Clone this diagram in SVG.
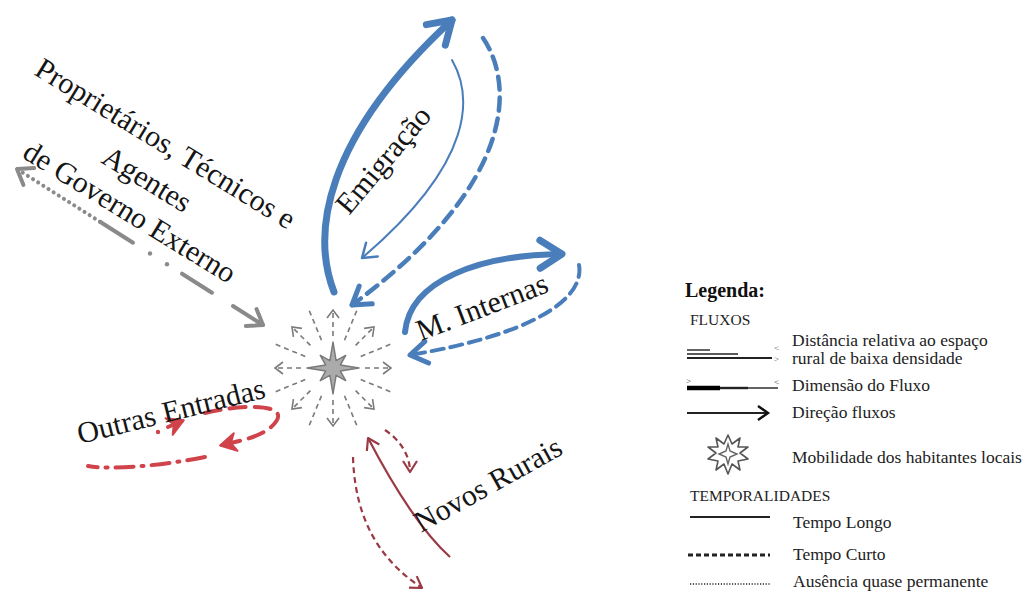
<svg xmlns="http://www.w3.org/2000/svg" width="1024" height="592" viewBox="0 0 1024 592">
<defs>
<style>
.lbl{font-family:"Liberation Serif","Times New Roman",serif;font-size:30px;fill:#151515}
.lg{font-family:"Liberation Serif","Times New Roman",serif;font-size:17.5px;fill:#222}
.lgc{font-family:"Liberation Serif","Times New Roman",serif;font-size:15.5px;fill:#222}
.blue{fill:none;stroke:#4a7ebb;stroke-linecap:round}
.ray{fill:none;stroke:#7a7a7a;stroke-width:1.6;stroke-dasharray:5 4}
.red{fill:none;stroke:#d0434b;stroke-width:4;stroke-linecap:round}
.dred{fill:none;stroke:#9a3a45;stroke-width:2.2}
.gray{fill:none;stroke:#8a8a8a;stroke-width:4;stroke-linecap:round}
</style>
<marker id="hBig" markerUnits="userSpaceOnUse" orient="auto" refX="0" refY="0" markerWidth="40" markerHeight="40" viewBox="-30 -20 40 40" overflow="visible"><path d="M-22,-14 L0,0 L-22,14" fill="none" stroke="#4a7ebb" stroke-width="7" stroke-linecap="round" stroke-linejoin="round"/></marker>
<marker id="hMid" markerUnits="userSpaceOnUse" orient="auto" refX="0" refY="0" markerWidth="40" markerHeight="40" viewBox="-30 -20 40 40" overflow="visible"><path d="M-17,-11 L0,0 L-17,11" fill="none" stroke="#4a7ebb" stroke-width="5" stroke-linecap="round" stroke-linejoin="round"/></marker>
<marker id="hThin" markerUnits="userSpaceOnUse" orient="auto" refX="0" refY="0" markerWidth="40" markerHeight="40" viewBox="-30 -20 40 40" overflow="visible"><path d="M-13,-9 L0,0 L-13,9" fill="none" stroke="#4a7ebb" stroke-width="2.5" stroke-linecap="round" stroke-linejoin="round"/></marker>
<marker id="hRay" markerUnits="userSpaceOnUse" orient="auto" refX="0" refY="0" markerWidth="20" markerHeight="20" viewBox="-15 -10 20 20" overflow="visible"><path d="M-8,-6 L0,0 L-8,6" fill="none" stroke="#7a7a7a" stroke-width="1.6"/></marker>
<marker id="hGray" markerUnits="userSpaceOnUse" orient="auto" refX="0" refY="0" markerWidth="30" markerHeight="30" viewBox="-20 -15 30 30" overflow="visible"><path d="M-14,-10 L0,0 L-14,10" fill="none" stroke="#8a8a8a" stroke-width="4" stroke-linecap="round" stroke-linejoin="round"/></marker>
<marker id="hRed" markerUnits="userSpaceOnUse" orient="auto" refX="0" refY="0" markerWidth="30" markerHeight="30" viewBox="-20 -15 30 30" overflow="visible"><path d="M2,0 L-14,-9 L-9,0 L-14,9 Z" fill="#d0434b" stroke="#d0434b" stroke-width="2" stroke-linejoin="round"/></marker>
<marker id="hDred" markerUnits="userSpaceOnUse" orient="auto" refX="0" refY="0" markerWidth="30" markerHeight="30" viewBox="-20 -15 30 30" overflow="visible"><path d="M-11,-7 L0,0 L-11,7" fill="none" stroke="#9a3a45" stroke-width="2.2" stroke-linejoin="round"/></marker>
<marker id="hLg" markerUnits="userSpaceOnUse" orient="auto" refX="0" refY="0" markerWidth="30" markerHeight="30" viewBox="-20 -15 30 30" overflow="visible"><path d="M-10,-7 L0,0 L-10,7" fill="none" stroke="#111" stroke-width="2.4"/></marker>
</defs>

<g id="mobilidade-central">
<g class="ray">
<path d="M365,368 L391,368" marker-end="url(#hRay)"/>
<path d="M355.6,390.6 L374,409" marker-end="url(#hRay)"/>
<path d="M333,400 L333,426" marker-end="url(#hRay)"/>
<path d="M310.4,390.6 L292,409" marker-end="url(#hRay)"/>
<path d="M301,368 L275,368" marker-end="url(#hRay)"/>
<path d="M310.4,345.4 L292,327" marker-end="url(#hRay)"/>
<path d="M333,336 L333,310" marker-end="url(#hRay)"/>
<path d="M355.6,345.4 L374,327" marker-end="url(#hRay)"/>
<path d="M360.7,379.5 L390.3,391.7"/>
<path d="M344.5,395.7 L356.7,425.3"/>
<path d="M321.5,395.7 L309.3,425.3"/>
<path d="M305.3,379.5 L275.7,391.7"/>
<path d="M305.3,356.5 L275.7,344.3"/>
<path d="M321.5,340.3 L309.3,310.7"/>
<path d="M344.5,340.3 L356.7,310.7"/>
<path d="M360.7,356.5 L390.3,344.3"/>
</g>
<polygon points="359,368 340.4,371.1 345.7,380.7 336.1,375.4 333,394 329.9,375.4 320.3,380.7 325.6,371.1 307,368 325.6,364.9 320.3,355.3 329.9,360.6 333,342 336.1,360.6 345.7,355.3 340.4,364.9" fill="#ababab" stroke="#7a7a7a" stroke-width="1.5" stroke-linejoin="round"/>
</g>

<g id="connectors">
<path class="blue" d="M334,292 C312,235 322,140 452,20" stroke-width="7" marker-end="url(#hBig)"/>
<path class="blue" d="M452,60 C472,95 477,160 362,258" stroke-width="2" marker-end="url(#hThin)"/>
<path class="blue" d="M483,38 C512,80 522,180 352,305" stroke-width="4.5" stroke-dasharray="13 8" stroke-linecap="butt" marker-end="url(#hMid)"/>
<path class="blue" d="M405,332 C410,280 480,255 562,254" stroke-width="6" marker-end="url(#hBig)"/>
<path class="blue" d="M579,265 C585,300 530,335 410,355" stroke-width="4" stroke-dasharray="12 7" stroke-linecap="butt" marker-end="url(#hMid)"/>
<path class="gray" d="M100,221.8 L17,169" stroke-width="3.5" stroke-dasharray="0.1 6" marker-end="url(#hGray)"/>
<path class="gray" d="M100,221.8 L133,242.7"/>
<circle cx="150" cy="253.5" r="2.2" fill="#8a8a8a"/>
<circle cx="167" cy="264.3" r="2.2" fill="#8a8a8a"/>
<path class="gray" d="M182,273.7 L212,292.7"/>
<path class="gray" d="M233,306 L263,325" marker-end="url(#hGray)"/>
<path class="red" d="M205,413 C240,404 300,402 270,428 C260,436 245,440 222,445" stroke-dasharray="16 9" marker-end="url(#hRed)"/>
<path class="red" d="M205,457 C160,466 110,470 88,466" stroke-dasharray="18 8 2 8"/>
<circle cx="158" cy="432" r="2.2" fill="#d0434b"/>
<path class="red" d="M168,427 L182,421" marker-end="url(#hRed)"/>
<path class="dred" d="M450,557 C420,530 390,480 368,438" marker-end="url(#hDred)"/>
<path class="dred" d="M385,430 C400,440 410,455 410,472" stroke-width="3" stroke-dasharray="6 4" marker-end="url(#hDred)"/>
<path class="dred" d="M353,457 C355,520 380,560 422,588" stroke-width="3" stroke-dasharray="6 4" marker-end="url(#hDred)"/>
</g>

<g id="labels">
<text class="lbl" transform="translate(349,216) rotate(-50)">Emigração</text>
<text class="lbl" transform="translate(421,341) rotate(-21)">M. Internas</text>
<text class="lbl" transform="translate(33,74) rotate(31.5)">Proprietários, Técnicos e</text>
<text class="lbl" transform="translate(100,162) rotate(31.5)">Agentes</text>
<text class="lbl" transform="translate(21,157) rotate(31.5)">de Governo Externo</text>
<text class="lbl" transform="translate(80,444) rotate(-14)">Outras Entradas</text>
<text class="lbl" transform="translate(421,533) rotate(-29)">Novos Rurais</text>
</g>

<g id="legenda">
<text x="685" y="297" font-family="Liberation Serif, serif" font-size="20" font-weight="bold" fill="#111">Legenda:</text>
<text class="lgc" x="690" y="325">FLUXOS</text>
<g stroke="#222" fill="none">
<line x1="687" y1="350" x2="710" y2="350" stroke-width="1.4"/>
<line x1="687" y1="354" x2="738" y2="354" stroke-width="1.4"/>
<line x1="687" y1="358" x2="772" y2="358" stroke-width="2"/>
<line x1="687" y1="388" x2="720" y2="388" stroke-width="4.5" stroke="#000"/>
<line x1="720" y1="388" x2="748" y2="388" stroke-width="2.4"/>
<line x1="748" y1="388" x2="778" y2="388" stroke-width="1.4"/>
<line x1="687" y1="413" x2="768" y2="413" stroke-width="2" marker-end="url(#hLg)"/>
<line x1="690" y1="517" x2="770" y2="517" stroke-width="1.8"/>
<line x1="688" y1="555" x2="770" y2="555" stroke-width="3" stroke-dasharray="5 3"/>
<line x1="690" y1="584" x2="770" y2="584" stroke-width="1.5" stroke-dasharray="1.2 1.6"/>
</g>
<text x="774" y="351" font-family="Liberation Serif, serif" font-size="9" fill="#555">&lt;</text>
<text x="774" y="362" font-family="Liberation Serif, serif" font-size="9" fill="#555">&gt;</text>
<text x="686" y="384" font-family="Liberation Serif, serif" font-size="9" fill="#333">&gt;</text>
<text x="774" y="385" font-family="Liberation Serif, serif" font-size="9" fill="#333">&lt;</text>
<g id="legenda-estrela">
<polygon points="728,435 732,444 740,438 738,447 748,447 740,453 748,459 738,461 740,470 732,464 728,474 724,464 716,470 718,461 708,459 716,453 708,447 718,447 716,438 724,444" fill="#fff" stroke="#555" stroke-width="1.6" stroke-linejoin="round"/>
<polygon points="728,444 730,451 737,454 730,457 728,464 726,457 719,454 726,451" fill="#fff" stroke="#666" stroke-width="1.4"/>
</g>
<text class="lg" x="792" y="346">Distância relativa ao espaço</text>
<text class="lg" x="792" y="364">rural de baixa densidade</text>
<text class="lg" x="792" y="391">Dimensão do Fluxo</text>
<text class="lg" x="792" y="418">Direção fluxos</text>
<text class="lg" x="792" y="463">Mobilidade dos habitantes locais</text>
<text class="lgc" x="690" y="501">TEMPORALIDADES</text>
<text class="lg" x="793" y="528">Tempo Longo</text>
<text class="lg" x="793" y="560">Tempo Curto</text>
<text class="lg" x="793" y="587">Ausência quase permanente</text>
</g>
</svg>
